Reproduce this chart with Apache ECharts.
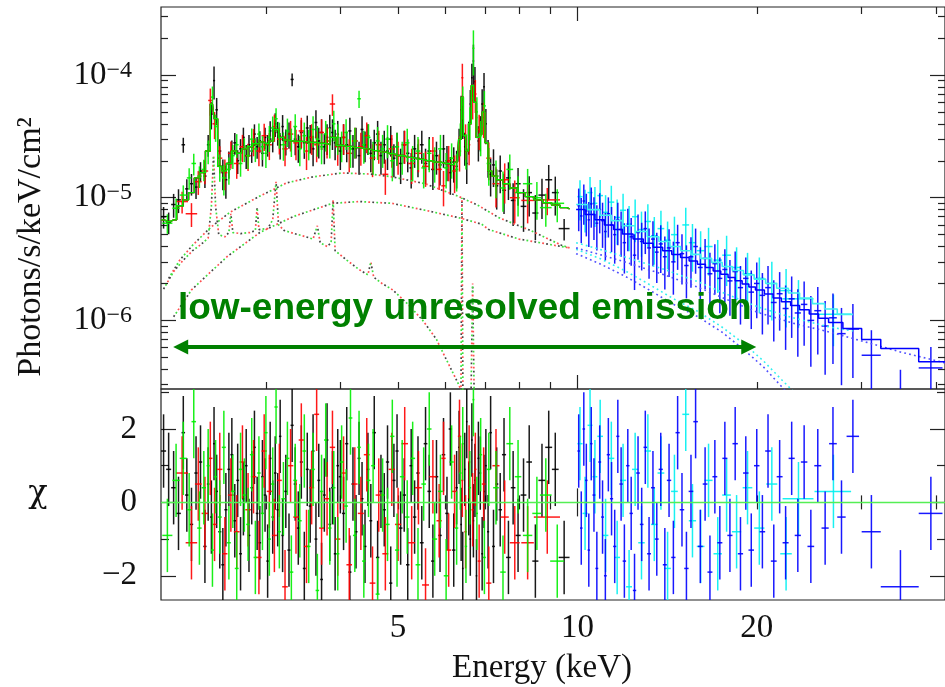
<!DOCTYPE html>
<html>
<head>
<meta charset="utf-8">
<script src="https://cdn.jsdelivr.net/npm/echarts@6/dist/echarts.min.js"></script>
<style>
  html, body { margin: 0; padding: 0; background: #fff; }
  #chart { width: 945px; height: 687px; }
</style>
</head>
<body>
<div id="chart"></div>
<script>
// energies in keV, fluxes in units of 1e-6 photons/s/keV/cm2
// data rows: [energy, half bin width, flux, fractional error]
var dataBlack = [
  [2.02,0.02,7.0,0.2],[2.06,0.02,6.3,0.2],[2.10,0.02,8.8,0.22],[2.14,0.02,9.6,0.22],[2.18,0.015,27,0.14],
  [2.21,0.015,11.8,0.2],[2.25,0.015,13.0,0.2],[2.29,0.015,12.2,0.2],[2.33,0.015,16.5,0.18],[2.37,0.015,15.0,0.2],
  [2.40,0.012,27,0.2],[2.43,0.012,48,0.25],[2.455,0.01,90,0.3],[2.48,0.012,52,0.25],[2.51,0.015,24,0.25],
  [2.54,0.015,16,0.28],[2.57,0.015,14,0.3],[2.60,0.015,19,0.25],[2.63,0.015,24,0.22],[2.66,0.015,28,0.2],
  [2.69,0.015,20,0.22],[2.72,0.015,25,0.2],[2.75,0.015,31,0.2],[2.78,0.015,22,0.22],[2.81,0.015,27,0.2],
  [2.84,0.015,24,0.2],[2.87,0.015,33,0.2],[2.90,0.015,26,0.2],[2.93,0.015,29,0.2],[2.96,0.015,23,0.22],
  [2.99,0.015,31,0.2],[3.02,0.015,27,0.2],[3.05,0.015,35,0.2],[3.08,0.015,30,0.22],[3.11,0.015,40,0.22],
  [3.14,0.015,34,0.22],[3.17,0.015,27,0.24],[3.20,0.015,38,0.24],[3.24,0.02,29,0.24],[3.28,0.02,33,0.24],
  [3.32,0.02,92,0.12],[3.36,0.02,30,0.26],[3.40,0.02,26,0.26],[3.44,0.02,34,0.26],[3.48,0.02,28,0.26],
  [3.52,0.02,37,0.26],[3.56,0.02,31,0.26],[3.60,0.02,25,0.28],[3.64,0.02,41,0.26],[3.68,0.02,29,0.28],
  [3.72,0.02,34,0.28],[3.76,0.02,26,0.28],[3.80,0.02,31,0.28],[3.84,0.02,37,0.28],[3.88,0.02,34,0.28],
  [3.92,0.02,28,0.28],[3.96,0.02,33,0.28],[4.00,0.025,24,0.3],[4.05,0.025,31,0.28],[4.10,0.025,27,0.28],
  [4.15,0.025,35,0.28],[4.20,0.025,25,0.3],[4.25,0.025,29,0.28],[4.30,0.025,22,0.3],[4.35,0.025,36,0.28],
  [4.40,0.025,27,0.28],[4.45,0.025,31,0.28],[4.50,0.025,23,0.3],[4.56,0.03,28,0.28],[4.62,0.03,33,0.28],
  [4.68,0.03,22,0.3],[4.74,0.03,27,0.3],[4.80,0.03,24,0.3],[4.86,0.03,30,0.28],[4.92,0.03,21,0.3],
  [4.98,0.03,26,0.3],[5.05,0.035,19,0.32],[5.12,0.035,27,0.3],[5.19,0.035,23,0.3],[5.26,0.035,17.5,0.32],
  [5.33,0.035,25,0.3],[5.40,0.035,21,0.3],[5.48,0.04,27,0.3],[5.56,0.04,19,0.32],[5.64,0.04,24,0.3],
  [5.72,0.04,17,0.32],[5.80,0.04,22,0.3],[5.88,0.04,18.5,0.32],[5.96,0.04,25,0.3],[6.04,0.04,20,0.32],
  [6.12,0.04,16,0.34],[6.20,0.04,19.5,0.32],[6.27,0.03,18,0.34],[6.33,0.025,28,0.3],[6.38,0.02,52,0.3],
  [6.42,0.02,43,0.3],[6.47,0.02,26,0.3],[6.52,0.02,19,0.32],[6.57,0.02,32,0.3],[6.61,0.02,58,0.3],
  [6.65,0.02,95,0.3],[6.69,0.02,130,0.36],[6.73,0.02,88,0.32],[6.77,0.02,45,0.32],[6.82,0.025,29,0.32],
  [6.87,0.025,35,0.32],[6.92,0.025,58,0.32],[6.97,0.025,80,0.3],[7.02,0.025,40,0.32],[7.08,0.03,22,0.34],
  [7.15,0.035,15.5,0.34],[7.23,0.04,18.5,0.34],[7.32,0.045,12.5,0.36],[7.42,0.05,16.5,0.34],[7.53,0.06,11.5,0.36],
  [7.66,0.07,14.5,0.34],[7.80,0.07,9.5,0.38],[7.95,0.08,13,0.34],[8.12,0.09,8.5,0.38],[8.30,0.09,11,0.36],
  [8.50,0.1,7.5,0.4],[8.72,0.12,10.5,0.36],[8.95,0.12,14,0.32],[9.18,0.12,11,0.35],[9.50,0.2,5.6,0.2]
];
var dataRed = [
  [2.17,0.05,9.3,0.2],[2.25,0.05,7.4,0.22],[2.31,0.03,13.5,0.22],[2.37,0.03,16.5,0.22],[2.42,0.02,62,0.25],
  [2.46,0.02,40,0.25],[2.51,0.025,21,0.25],[2.56,0.025,16,0.28],[2.62,0.03,23,0.25],[2.68,0.03,19,0.25],
  [2.74,0.03,26,0.25],[2.80,0.03,22,0.25],[2.86,0.03,29,0.25],[2.92,0.03,24,0.25],[2.98,0.03,32,0.25],
  [3.04,0.03,27,0.25],[3.10,0.03,38,0.25],[3.16,0.03,30,0.25],[3.23,0.035,25,0.28],[3.30,0.035,33,0.28],
  [3.37,0.035,28,0.28],[3.44,0.035,35,0.28],[3.51,0.035,24,0.3],[3.58,0.035,31,0.28],[3.65,0.035,27,0.28],
  [3.72,0.035,34,0.28],[3.80,0.04,29,0.28],[3.88,0.04,58,0.2],[3.96,0.04,26,0.3],[4.05,0.045,31,0.28],
  [4.14,0.045,23,0.3],[4.23,0.045,29,0.28],[4.33,0.05,26,0.3],[4.43,0.05,32,0.28],[4.53,0.05,21,0.3],
  [4.64,0.055,27,0.3],[4.76,0.055,15.5,0.32],[4.88,0.06,25,0.3],[5.00,0.06,22,0.3],[5.13,0.065,27,0.3],
  [5.27,0.07,19,0.32],[5.41,0.07,23,0.3],[5.56,0.075,18,0.32],[5.72,0.08,24,0.3],[5.86,0.06,17,0.32],
  [5.96,0.05,12.5,0.32],[6.08,0.06,20,0.32],[6.22,0.06,16.5,0.34],[6.34,0.04,24,0.32],[6.41,0.025,95,0.3],
  [6.49,0.03,30,0.32],[6.58,0.03,27,0.32],[6.67,0.03,62,0.3],[6.74,0.03,70,0.3],[6.84,0.04,36,0.32],
  [6.96,0.05,45,0.32],[7.10,0.07,21,0.34],[7.30,0.1,13,0.36],[7.55,0.12,14,0.36],[7.85,0.15,10,0.38],
  [8.25,0.2,9.5,0.35],[8.90,0.45,9.6,0.25]
];
var dataGreen = [
  [2.05,0.04,6.2,0.18],[2.12,0.03,8.2,0.2],[2.18,0.03,10.5,0.2],[2.23,0.02,14.5,0.2],[2.27,0.02,19,0.2],
  [2.32,0.02,15,0.2],[2.36,0.02,17,0.2],[2.40,0.015,24,0.22],[2.44,0.015,66,0.22],[2.47,0.015,38,0.25],
  [2.51,0.02,18,0.25],[2.55,0.02,14.5,0.28],[2.60,0.02,17,0.25],[2.64,0.02,22,0.22],[2.68,0.02,27,0.22],
  [2.72,0.02,19,0.22],[2.76,0.02,25,0.22],[2.80,0.02,22,0.22],[2.84,0.02,30,0.22],[2.88,0.02,25,0.22],
  [2.92,0.02,33,0.22],[2.96,0.02,26,0.22],[3.00,0.02,23,0.24],[3.04,0.02,31,0.24],[3.08,0.02,37,0.24],
  [3.12,0.02,44,0.22],[3.16,0.02,33,0.24],[3.21,0.025,27,0.26],[3.26,0.025,35,0.26],[3.31,0.025,29,0.26],
  [3.36,0.025,38,0.26],[3.42,0.025,25,0.28],[3.48,0.025,32,0.28],[3.54,0.025,28,0.28],[3.60,0.025,36,0.28],
  [3.66,0.025,30,0.28],[3.72,0.025,26,0.28],[3.78,0.025,33,0.28],[3.84,0.025,29,0.28],[3.90,0.025,40,0.28],
  [3.96,0.025,31,0.28],[4.02,0.03,27,0.28],[4.09,0.03,34,0.28],[4.16,0.03,25,0.3],[4.23,0.03,29,0.28],
  [4.30,0.03,64,0.16],[4.38,0.03,27,0.3],[4.46,0.035,31,0.28],[4.54,0.035,22,0.3],[4.62,0.035,29,0.3],
  [4.71,0.035,25,0.3],[4.80,0.04,30,0.3],[4.89,0.04,20,0.32],[4.98,0.04,26,0.3],[5.08,0.045,22,0.3],
  [5.18,0.045,28,0.3],[5.29,0.05,20,0.32],[5.40,0.05,24,0.3],[5.52,0.05,17.5,0.32],[5.64,0.05,23,0.3],
  [5.76,0.055,19.5,0.32],[5.89,0.055,25,0.3],[6.02,0.055,17.5,0.32],[6.15,0.05,21,0.32],[6.27,0.04,17,0.34],
  [6.36,0.03,31,0.3],[6.42,0.025,62,0.3],[6.50,0.03,25,0.32],[6.60,0.03,42,0.3],[6.69,0.025,165,0.4],
  [6.78,0.03,50,0.32],[6.88,0.04,32,0.32],[6.98,0.04,56,0.32],[7.10,0.06,19,0.34],[7.30,0.08,15,0.34],
  [7.50,0.08,12,0.36],[7.70,0.1,17,0.32],[7.95,0.1,11,0.36],[8.25,0.15,13,0.32],[8.55,0.15,10,0.34],
  [8.85,0.2,8.3,0.3],[9.25,0.25,9.0,0.3]
];
var dataBlue = [
  [10.05,0.05,8.6,0.38],[10.15,0.05,7.1,0.4],[10.25,0.05,9.4,0.36],[10.35,0.05,7.8,0.38],[10.45,0.05,6.6,0.4],
  [10.55,0.05,8.9,0.36],[10.66,0.06,7.3,0.38],[10.78,0.06,6.2,0.4],[10.90,0.06,8.0,0.36],[11.02,0.06,6.5,0.4],
  [11.14,0.06,5.3,0.42],[11.27,0.07,7.4,0.36],[11.41,0.07,6.0,0.4],[11.55,0.07,5.0,0.42],[11.69,0.07,6.6,0.38],
  [11.84,0.08,5.5,0.4],[11.99,0.08,4.3,0.44],[12.15,0.08,5.9,0.38],[12.31,0.08,4.8,0.42],[12.47,0.08,3.4,0.48],
  [12.64,0.09,5.2,0.4],[12.82,0.09,4.4,0.42],[13.00,0.09,5.6,0.38],[13.19,0.1,3.9,0.44],[13.39,0.1,4.6,0.4],
  [13.59,0.1,3.6,0.44],[13.80,0.11,4.2,0.42],[14.02,0.11,3.3,0.46],[14.25,0.12,3.9,0.42],[14.49,0.12,3.0,0.46],
  [14.73,0.12,4.3,0.4],[14.98,0.13,3.5,0.44],[15.24,0.13,2.8,0.46],[15.51,0.14,3.3,0.44],[15.79,0.14,4.0,0.4],
  [16.08,0.15,2.7,0.46],[16.38,0.15,3.2,0.44],[16.69,0.16,2.4,0.48],[17.01,0.16,2.9,0.44],[17.34,0.17,2.2,0.48],
  [17.68,0.17,2.6,0.46],[18.03,0.18,2.1,0.48],[18.40,0.19,2.5,0.46],[18.78,0.19,1.85,0.5],[19.17,0.2,2.2,0.48],
  [19.58,0.21,1.7,0.5],[20.00,0.21,2.0,0.48],[20.44,0.22,1.6,0.52],[20.89,0.23,1.85,0.5],[21.36,0.24,1.4,0.52],
  [21.85,0.25,1.65,0.5],[22.36,0.26,1.25,0.54],[22.89,0.27,1.5,0.52],[23.44,0.28,1.15,0.56],[24.02,0.3,1.35,0.54],
  [24.65,0.32,1.0,0.58],[25.32,0.34,1.2,0.56],[26.05,0.36,0.9,0.6],[26.85,0.4,1.05,0.58],[27.75,0.45,0.78,0.62],
  [29.00,0.7,0.85,0.6],[31.15,1.15,0.52,0.6],[34.85,2.55,0.22,0.8],[39.2,1.8,0.41,0.48]
];
var dataCyan = [
  [10.10,0.1,10.2,0.36],[10.30,0.1,8.4,0.38],[10.50,0.1,11.0,0.34],[10.70,0.1,9.0,0.36],[10.92,0.12,10.4,0.34],
  [11.15,0.12,7.6,0.38],[11.40,0.13,9.2,0.36],[11.66,0.13,6.9,0.4],[11.93,0.14,7.9,0.36],[12.21,0.14,6.1,0.4],
  [12.50,0.15,7.0,0.38],[12.81,0.16,5.5,0.4],[13.13,0.16,6.4,0.38],[13.46,0.17,4.9,0.42],[13.81,0.18,5.6,0.4],
  [14.17,0.18,4.5,0.42],[14.55,0.19,5.0,0.4],[15.20,0.2,6.0,0.38],[15.60,0.22,4.3,0.42],[16.10,0.24,3.7,0.44],
  [16.60,0.26,4.0,0.42],[17.20,0.28,3.1,0.46],[17.80,0.3,3.4,0.44],[18.50,0.33,2.7,0.46],[19.30,0.36,2.4,0.48],
  [20.20,0.4,2.2,0.48],[21.20,0.45,2.0,0.5],[22.40,0.5,1.75,0.5],[23.50,1.4,1.5,0.42],[26.90,1.9,1.12,0.45]
];

// residuals (chi) for each data row above
var chiBlack = [
  1.4,0.9,0.4,-0.3,1.9,0.2,-0.6,0.8,1.1,-1.2, 0.5,-0.4,1.6,0.3,-0.8,-1.7,-0.2,0.9,1.3,-0.5,
  0.6,-1.4,0.1,1.0,-0.9,0.4,1.5,-0.3,-1.1,0.7, 0.2,-1.6,1.2,-0.4,0.8,-0.2,1.8,-0.9,0.3,-1.3,
  2.1,0.5,-0.7,1.1,-1.8,0.9,-0.1,1.4,-1.0,0.6, -2.1,0.2,1.7,-0.6,0.4,-1.4,1.0,0.7,-0.3,1.6,
  -1.9,0.5,-0.8,1.2,0.1,-1.2,0.9,-0.5,1.9,-1.5, 0.3,-0.2,1.1,-2.2,0.6,1.4,-0.7,0.2,-1.7,1.0,
  -0.4,0.8,-1.1,1.6,0.3,-1.6,0.7,-0.9,1.3,-0.3, 2.0,-1.3,0.4,1.5,-0.6,-1.8,0.9,2.2,0.1,-1.0,
  1.7,-0.5,0.6,-2.0,1.2,0.8,-1.4,0.3,1.0,-0.8, 1.9,-1.2,0.5,-0.2,1.3,-1.5,0.4,-0.9,0.2,1.1,
  -1.6,0.6,1.5,0.9,-1.5
];
var chiRed = [
  0.8,-1.1,0.5,-0.3,1.2,-0.6,0.9,-1.4,0.2,-0.8, 1.1,-0.2,0.7,-1.5,1.4,0.3,-0.9,0.6,-2.3,1.0,
  -0.4,1.7,-1.2,0.4,2.4,-0.7,0.1,1.5,-1.0,0.8, -1.7,0.5,-0.3,1.3,-2.2,0.2,-1.4,0.9,-0.6,1.6,
  -1.1,0.4,-2.25,0.7,-0.5,1.2,-1.3,0.3,1.8,0.6, -0.8,1.1,-0.2,0.9,-1.6,0.5,-2.2,1.0,-0.4,-1.1,
  -1.1,-0.4
];
var chiGreen = [
  -0.9,0.6,1.2,-0.2,2.2,-0.7,0.4,1.0,-1.3,0.7, -0.4,1.5,-1.1,0.3,-1.8,0.9,0.2,-0.6,1.3,-1.5,
  0.8,-0.3,1.9,-1.0,0.5,2.6,-0.8,0.1,1.2,-1.9, 0.6,-0.5,1.4,-1.2,0.9,-2.4,0.3,1.7,-0.7,0.4,
  -1.4,1.1,-0.1,2.3,-0.9,1.5,-1.6,0.6,1.0,-2.5, 0.2,-0.6,1.8,-1.3,0.7,-0.4,1.2,-1.7,0.5,2.0,
  -1.0,0.3,-2.0,1.1,-0.7,0.8,1.6,-1.2,0.4,2.8, -0.3,1.3,-1.5,0.9,0.4,-1.9,1.6,0.7,-0.9,-0.3,
  0.2,-1.6
];
var chiBlue = [
  1.4,-0.7,2.0,0.6,-1.3,1.6,0.2,-1.8,1.1,-0.4, -2.0,1.3,0.1,-1.2,1.8,0.5,-1.6,1.0,-0.3,-2.4,
  0.8,-0.6,1.5,-1.4,0.4,-1.0,0.9,-1.7,0.6,-1.5, 1.9,-0.2,-1.8,0.3,2.2,-1.2,0.5,-1.9,0.7,-1.1,
  1.2,-0.9,1.6,-1.4,0.8,-1.3,1.0,-0.8,1.4,-1.6, 0.7,-1.1,1.2,-0.9,1.1,-1.2,1.0,-0.7,1.6,-0.4,
  1.8,-0.8,-2.3,-0.3
];
var chiCyan = [
  1.6,-0.3,2.1,0.7,1.8,-0.9,1.2,-1.5,0.6,-2.3, 0.9,-1.1,1.4,-0.6,0.8,-1.8,0.3,2.4,-0.5,-1.2,
  0.6,-1.4,0.2,-0.8,0.4,-0.7,0.5,-1.4,0.1,0.3
];

// folded models: [energy, flux]
var modelXis = [
  [2.00,6.6],[2.05,6.4],[2.10,6.6],[2.15,8.6],[2.20,9.6],[2.25,11],[2.30,14.5],[2.35,16],[2.40,24],[2.44,58],
  [2.47,44],[2.51,18],[2.55,16.5],[2.60,19],[2.65,24],[2.70,23],[2.76,25],[2.82,26],[2.88,27.5],[2.94,28.5],
  [3.00,27.5],[3.06,29],[3.12,36],[3.18,31],[3.25,29.5],[3.32,29],[3.40,28.8],[3.50,28.5],[3.60,28.2],[3.70,27.8],
  [3.80,27.4],[3.89,31],[3.98,26.6],[4.10,26.2],[4.25,25.6],[4.40,25],[4.55,24.2],[4.70,23.5],[4.85,22.8],[5.00,22.1],
  [5.20,21.3],[5.40,20.6],[5.60,20],[5.80,19.5],[6.00,19],[6.15,18.6],[6.28,19.5],[6.36,30],[6.41,66],[6.46,32],
  [6.53,24],[6.60,40],[6.67,82],[6.72,60],[6.80,31],[6.88,33],[6.96,50],[7.03,28],[7.12,16.5],[7.25,15],
  [7.40,14],[7.60,13],[7.80,12],[8.05,11],[8.30,10.2],[8.60,9.6],[8.90,9.1],[9.20,8.7],[9.50,8.3],[9.70,8.1]
];
// [lower bin edge, flux]; last row closes the final bin
var modelBlue = [
  [9.95,8.0],[10.3,7.3],[10.7,6.6],[11.1,6.0],[11.5,5.5],[11.9,5.05],[12.4,4.6],[12.9,4.25],[13.4,3.95],[13.9,3.7],
  [14.4,3.45],[14.9,3.25],[15.4,3.05],[15.9,2.87],[16.4,2.7],[16.9,2.53],[17.4,2.38],[17.9,2.24],[18.4,2.1],[18.9,1.98],
  [19.4,1.87],[19.9,1.77],[20.6,1.64],[21.3,1.52],[22.0,1.42],[22.8,1.32],[23.6,1.22],[24.5,1.13],[25.4,1.04],[26.4,0.96],
  [27.9,0.86],[30.0,0.70],[32.3,0.59],[37.4,0.46],[41.5,0.46]
];
var modelCyan = [
  [9.95,8.8],[10.4,8.0],[10.9,7.2],[11.4,6.5],[11.9,5.9],[12.5,5.3],[13.1,4.8],[13.7,4.4],[14.3,4.0],[14.9,3.7],
  [15.5,3.45],[16.1,3.2],[16.8,2.97],[17.5,2.75],[18.2,2.55],[19.0,2.35],[19.8,2.17],[20.7,2.0],[21.6,1.83],[22.6,1.67],
  [23.6,1.52],[24.8,1.37],[26.0,1.24],[27.3,1.12],[29.0,1.12]
];

// model components (dotted)
var compSoftXis = [
  [2.06,2.2],[2.15,3.1],[2.26,4.1],[2.42,5.7],[2.61,7.6],[2.93,10.3],[3.25,13.2],[3.6,14.8],[4.03,15.9],[4.47,15.6],
  [4.88,14.8],[5.55,13.0],[6.3,10.3],[6.8,8.7],[7.37,6.9],[8.35,5.4],[9.4,4.1],[9.7,3.9]
];
var compHardXis = [
  [2.10,1.07],[2.25,1.77],[2.58,3.3],[2.93,5.2],[3.33,7.0],[3.88,9.0],[4.3,9.3],[4.88,9.0],[5.55,7.9],[6.3,6.9],
  [6.9,6.1],[7.1,5.5],[7.98,4.6],[9.4,4.0],[9.7,3.9]
];
var compLinesXis = [
  [2.02,1.8],[2.10,2.5],[2.18,3.1],[2.26,3.7],[2.34,4.2],[2.40,4.7],[2.43,8.5],[2.45,22],[2.47,8.5],[2.50,5.0],
  [2.56,4.8],[2.60,5.2],[2.62,7.4],[2.64,5.2],[2.72,5.1],[2.82,5.2],[2.88,5.4],[2.90,8.3],[2.92,5.5],[3.02,5.6],
  [3.08,6.6],[3.12,13.5],[3.15,6.0],[3.22,5.4],[3.35,5.1],[3.50,4.8],[3.60,4.6],[3.66,5.9],[3.70,4.3],[3.80,4.0],
  [3.86,4.3],[3.89,9.6],[3.92,3.7],[4.10,3.1],[4.30,2.6],[4.45,2.35],[4.50,3.0],[4.55,2.25],[4.70,2.0],[4.90,1.77],
  [5.20,1.35],[5.50,1.0],[5.80,0.7],[6.00,0.5],[6.30,0.31],[6.50,0.22],[6.62,0.16],[6.67,2.0],[6.72,0.14]
];
var compFe64Xis = [[6.37,0.1],[6.40,10],[6.43,0.1]];
var compSoftBlue = [[9.95,3.5],[10.9,2.9],[12.0,2.3],[13.0,1.85],[14.5,1.35],[16.0,1.06],[17.5,0.8],[19.0,0.58],[20.5,0.42],[22.0,0.29],[23.0,0.23]];
var compSoftCyan = [[9.95,3.8],[10.9,3.2],[12.0,2.55],[13.0,2.05],[14.5,1.5],[16.0,1.17],[17.5,0.88],[19.0,0.65],[20.5,0.47],[22.0,0.33],[23.5,0.24]];
var compHardBlue = [[9.95,3.9],[11.0,3.4],[12.0,3.0],[14.0,2.35],[16.0,1.85],[18.0,1.45],[20.0,1.17],[23.0,0.95],[26.6,0.8],[30.0,0.68],[35.0,0.55],[41.5,0.45]];
var compHardCyan = [[9.95,4.3],[11.0,3.75],[12.0,3.3],[14.0,2.6],[16.0,2.05],[18.0,1.6],[20.0,1.3],[23.0,1.05],[26.6,0.88],[29.0,0.82]];

// axes
var xLabelTicks = [5, 10, 20];
var xMinorTicks = [3, 4, 5, 6, 7, 8, 9, 20, 30, 40];
var xMajorTicks = [10];
var yMajorTicks = [1e-4, 1e-5, 1e-6];
var chiMajorTicks = [-2, 0, 2];
var chiMinorTicks = [-1, 1, 3];

var annotationText = 'low-energy unresolved emission';
var arrowEnds = [2.158, 19.39];
var arrowLevel = 6.07e-7;

var L = function(v) { return Math.log10(v); };
var FU = 1e-6;
var serif = '"Liberation Serif", "DejaVu Serif", serif';
var ink = '#111';

var xMin = L(2.0), xMax = L(41.4);
var yMin = -6.559, yMax = -3.446;
var chiMin = -2.66, chiMax = 3.09;

var yMinorTicks = [];
[-7, -6, -5, -4].forEach(function(d) {
  for (var m = 2; m <= 9; m++) {
    var v = m * Math.pow(10, d);
    if (L(v) > yMin && L(v) < yMax) yMinorTicks.push(v);
  }
});

function crossData(arr) {
  return arr.map(function(d) {
    var f = d[2] * FU;
    return [L(d[0]), L(d[0] - d[1]), L(d[0] + d[1]), L(f), L(f * (1 - d[3])), L(f * (1 + d[3]))];
  });
}
function chiData(arr, chi) {
  return arr.map(function(d, i) {
    return [L(d[0]), L(d[0] - d[1]), L(d[0] + d[1]), chi[i], chi[i] - 1, chi[i] + 1];
  });
}
function lineData(arr) {
  return arr.map(function(d) { return [L(d[0]), L(d[1] * FU)]; });
}

function crossRender(color, width) {
  return function(params, api) {
    var c = api.coord([api.value(0), api.value(3)]);
    var a = api.coord([api.value(1), api.value(3)]);
    var b = api.coord([api.value(2), api.value(3)]);
    var lo = api.coord([api.value(0), api.value(4)]);
    var hi = api.coord([api.value(0), api.value(5)]);
    var st = { stroke: color, lineWidth: width, opacity: 0.9 };
    return {
      type: 'group',
      children: [
        { type: 'line', shape: { x1: a[0], y1: c[1], x2: b[0], y2: c[1] }, style: st },
        { type: 'line', shape: { x1: c[0], y1: lo[1], x2: c[0], y2: hi[1] }, style: st }
      ]
    };
  };
}

function crossSeries(rows, color, panel) {
  return {
    type: 'custom',
    xAxisIndex: panel === 0 ? 0 : 2,
    yAxisIndex: panel === 0 ? 0 : 4,
    data: rows,
    renderItem: crossRender(color, 1.5),
    encode: { x: [0, 1, 2], y: [3, 4, 5] },
    clip: true,
    silent: true
  };
}

function curve(arr, color, opts) {
  opts = opts || {};
  return {
    type: 'line',
    xAxisIndex: 0,
    yAxisIndex: 0,
    data: lineData(arr),
    showSymbol: false,
    symbol: 'none',
    step: opts.step || false,
    clip: true,
    silent: true,
    lineStyle: {
      color: color,
      width: opts.width || 1.4,
      type: opts.dash || 'solid',
      dashOffset: opts.offset || 0
    }
  };
}

// three overlapping dotted copies (black / red / green) of one XIS component
function dottedXis(arr) {
  return [
    curve(arr, '#444', { dash: [1.8, 10.2], offset: 0, width: 1.7 }),
    curve(arr, '#ff5050', { dash: [1.8, 10.2], offset: 4, width: 1.7 }),
    curve(arr, '#40e040', { dash: [1.8, 10.2], offset: 8, width: 1.7 })
  ];
}

var tickStyle = { color: '#222', width: 1.2 };

function xAx(grid, pos, ticks, len, labels) {
  return {
    type: 'value', gridIndex: grid, position: pos, min: xMin, max: xMax,
    axisLine: { show: false }, splitLine: { show: false },
    axisTick: { show: true, inside: true, length: len, customValues: ticks.map(L), lineStyle: tickStyle },
    axisLabel: labels ? {
      show: true, customValues: labels.map(L), margin: 12,
      fontFamily: serif, fontSize: 33, color: ink,
      formatter: function(v) { return String(Math.round(Math.pow(10, v))); }
    } : { show: false }
  };
}

function yAx(grid, pos, min, max, ticks, len, labelCfg) {
  return {
    type: 'value', gridIndex: grid, position: pos, min: min, max: max,
    axisLine: { show: false }, splitLine: { show: false },
    axisTick: { show: true, inside: true, length: len, customValues: ticks, lineStyle: tickStyle },
    axisLabel: labelCfg || { show: false }
  };
}

var fluxLabel = {
  show: true, customValues: yMajorTicks.map(L), margin: 29,
  formatter: function(v) { return '{b|10}{s|\u2212' + Math.round(-v) + '}'; },
  rich: {
    b: { fontFamily: serif, fontSize: 33, lineHeight: 33, color: ink },
    s: { fontFamily: serif, fontSize: 24, lineHeight: 24, color: ink, verticalAlign: 'top' }
  }
};
var chiLabel = {
  show: true, customValues: chiMajorTicks, margin: 24,
  fontFamily: serif, fontSize: 33, color: ink,
  formatter: function(v) { return v < 0 ? '\u2212' + (-v) : String(v); }
};

var series = [];
series = series.concat(dottedXis(compSoftXis), dottedXis(compHardXis), dottedXis(compLinesXis), dottedXis(compFe64Xis));
series.push(curve(compSoftCyan, '#30f0f0', { dash: [1.8, 3.2], width: 1.6 }));
series.push(curve(compHardCyan, '#30f0f0', { dash: [1.8, 3.2], width: 1.6 }));
series.push(curve(compSoftBlue, '#5050ff', { dash: [1.8, 3.2], width: 1.6 }));
series.push(curve(compHardBlue, '#5050ff', { dash: [1.8, 3.2], width: 1.6 }));

series.push(crossSeries(crossData(dataBlack), '#000000', 0));
series.push(crossSeries(crossData(dataRed), '#ff0000', 0));
series.push(crossSeries(crossData(dataGreen), '#00ee00', 0));
series.push(curve(modelXis, '#000000', { step: 'middle' }));
series.push(curve(modelXis, '#ff0000', { step: 'middle' }));
series.push(curve(modelXis, '#00ee00', { step: 'middle' }));
series.push(crossSeries(crossData(dataCyan), '#00f0f0', 0));
series.push(crossSeries(crossData(dataBlue), '#0000ff', 0));
series.push(curve(modelCyan, '#40f0f0', { step: 'end', width: 1.6 }));
series.push(curve(modelBlue, '#0000ff', { step: 'end', width: 1.5 }));

series.push(crossSeries(chiData(dataBlack, chiBlack), '#000000', 1));
series.push(crossSeries(chiData(dataRed, chiRed), '#ff0000', 1));
series.push(crossSeries(chiData(dataGreen, chiGreen), '#00ee00', 1));
series.push(crossSeries(chiData(dataCyan, chiCyan), '#00f0f0', 1));
var blueChi = crossSeries(chiData(dataBlue, chiBlue), '#0000ff', 1);
blueChi.markLine = {
  silent: true, symbol: 'none', animation: false,
  label: { show: false },
  lineStyle: { color: '#55ee55', width: 1.3, type: 'solid' },
  data: [{ yAxis: 0 }]
};
series.push(blueChi);

// annotation arrow and label
series.push({
  type: 'line', xAxisIndex: 0, yAxisIndex: 0, data: [], silent: true,
  markLine: {
    silent: true, animation: false,
    symbol: ['triangle', 'triangle'], symbolSize: 15,
    lineStyle: { color: '#008000', width: 4, type: 'solid' },
    label: {
      show: true, position: 'insideMiddleTop', distance: 20,
      formatter: annotationText,
      fontFamily: '"Liberation Sans", Arial, sans-serif', fontWeight: 'bold', fontSize: 37, color: '#008000'
    },
    data: [[{ coord: [L(arrowEnds[0]), L(arrowLevel)] }, { coord: [L(arrowEnds[1]), L(arrowLevel)] }]]
  }
});

var chart = echarts.init(document.getElementById('chart'), null, { renderer: 'canvas' });
chart.setOption({
  animation: false,
  backgroundColor: '#fff',
  grid: [
    { left: 161, top: 7, width: 787, height: 382, show: true, borderColor: '#222', borderWidth: 1.2, backgroundColor: 'transparent' },
    { left: 161, top: 389, width: 787, height: 211, show: true, borderColor: '#222', borderWidth: 1.2, backgroundColor: 'transparent' }
  ],
  xAxis: [
    xAx(0, 'bottom', xMinorTicks, 7),
    xAx(0, 'top', xMinorTicks, 7),
    xAx(1, 'bottom', xMinorTicks, 7, xLabelTicks),
    xAx(1, 'top', xMinorTicks, 7),
    xAx(0, 'bottom', xMajorTicks, 14),
    xAx(0, 'top', xMajorTicks, 14),
    xAx(1, 'bottom', xMajorTicks, 14),
    xAx(1, 'top', xMajorTicks, 14)
  ],
  yAxis: [
    yAx(0, 'left', yMin, yMax, yMinorTicks.map(L), 7),
    yAx(0, 'left', yMin, yMax, yMajorTicks.map(L), 15, fluxLabel),
    yAx(0, 'right', yMin, yMax, yMinorTicks.map(L), 7),
    yAx(0, 'right', yMin, yMax, yMajorTicks.map(L), 15),
    yAx(1, 'left', chiMin, chiMax, chiMinorTicks, 8),
    yAx(1, 'left', chiMin, chiMax, chiMajorTicks, 15, chiLabel),
    yAx(1, 'right', chiMin, chiMax, chiMinorTicks, 8),
    yAx(1, 'right', chiMin, chiMax, chiMajorTicks, 15)
  ],
  graphic: [
    { type: 'text', x: 31, y: 247, rotation: Math.PI / 2, silent: true,
      style: { text: 'Photons/s/keV/cm\u00b2', font: '34px ' + serif, fill: ink, align: 'center', verticalAlign: 'middle' } },
    { type: 'text', x: 38, y: 494, silent: true,
      style: { text: '\u03c7', font: '32px "DejaVu Serif", serif', fill: ink, align: 'center', verticalAlign: 'middle' } },
    { type: 'text', x: 542, y: 668, silent: true,
      style: { text: 'Energy (keV)', font: '33px ' + serif, fill: ink, align: 'center', verticalAlign: 'middle' } }
  ],
  series: series
});
window.addEventListener('resize', function() { chart.resize(); });
</script>
</body>
</html>
